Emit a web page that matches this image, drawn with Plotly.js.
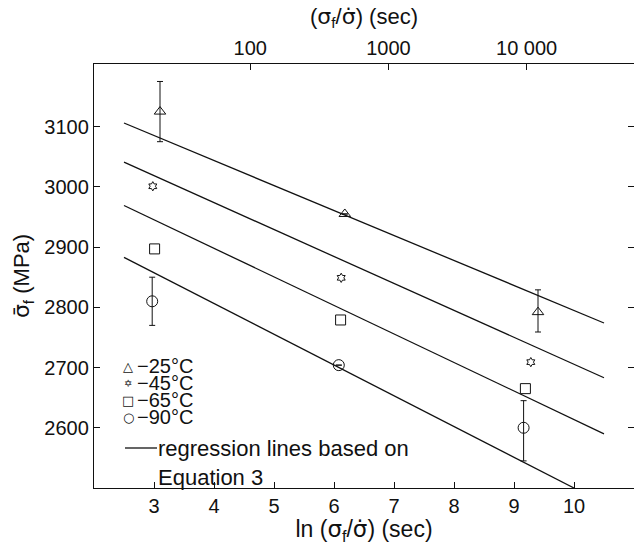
<!DOCTYPE html>
<html><head><meta charset="utf-8">
<script src="https://cdn.plot.ly/plotly-3.0.1.min.js"></script>
<style>body{margin:0;background:#fff}</style>
</head><body><div id="chart" style="width:634px;height:545px"></div>
<script>
// ---- data ----
const lnTime_25 = [3.10, 6.18, 9.40];
const sigma_25  = [3125, 2955, 2792];
const errUp_25  = [50, null, 37];
const errDn_25  = [50, null, 33];

const lnTime_45 = [2.98, 6.12, 9.28];
const sigma_45  = [3001, 2849, 2709];

const lnTime_65 = [3.01, 6.11, 9.19];
const sigma_65  = [2897, 2779, 2665];

const lnTime_90 = [2.97, 6.08, 9.16];
const sigma_90  = [2810, 2704, 2600];
const errUp_90  = [40, null, 45];
const errDn_90  = [40, null, 55];

// regression lines (Equation 3), endpoints
const regX_25 = [2.5, 10.5], regY_25 = [3106, 2774];
const regX_45 = [2.5, 10.5], regY_45 = [3041, 2683];
const regX_65 = [2.5, 10.5], regY_65 = [2969, 2590];
const regX_90 = [2.5, 10.0], regY_90 = [2883, 2500];

const xTicks = [3, 4, 5, 6, 7, 8, 9, 10];
const yTicks = [2600, 2700, 2800, 2900, 3000, 3100];
const topTimes = [100, 1000, 10000];
const topTickText = ['100', '1000', '10 000'];

const legendLabels = ['\u221225\u00b0C', '\u221245\u00b0C', '\u221265\u00b0C', '\u221290\u00b0C'];
const legendSymbols = ['\u25b3', '\u2721', '\u25a1', '\u25cb'];
const regLabel = 'regression lines based on<br>Equation 3';

// ---- drawing ----
const FONT = 'Liberation Sans, Arial, sans-serif';
const black = '#111';
const SIG = '<span style="font-family:DejaVu Sans">';

function pts(x, y, symbol, size, eu, ed) {
  const t = {x: x, y: y, type: 'scatter', mode: 'markers', xaxis: 'x', yaxis: 'y',
    marker: {symbol: symbol, size: size, color: black, line: {color: black, width: 1}},
    showlegend: false, hoverinfo: 'skip'};
  if (eu) t.error_y = {type: 'data', symmetric: false, array: eu, arrayminus: ed,
    color: black, thickness: 1, width: 3};
  return t;
}
function reg(x, y) {
  return {x: x, y: y, type: 'scatter', mode: 'lines', xaxis: 'x', yaxis: 'y',
    line: {color: black, width: 1.3}, showlegend: false, hoverinfo: 'skip'};
}

const data = [
  reg(regX_25, regY_25), reg(regX_45, regY_45), reg(regX_65, regY_65), reg(regX_90, regY_90),
  pts(lnTime_25, sigma_25, 'triangle-up-open', 10, errUp_25, errDn_25),
  pts(lnTime_45, sigma_45, 'hexagram-open', 7),
  pts(lnTime_65, sigma_65, 'square-open', 10),
  pts(lnTime_90, sigma_90, 'circle-open', 11, errUp_90, errDn_90),
  // invisible traces to activate the top and right axes
  {x: topTimes.map(Math.log), y: [2550, 2550, 2550], xaxis: 'x2', yaxis: 'y', type: 'scatter',
   mode: 'markers', marker: {opacity: 0}, showlegend: false, hoverinfo: 'skip'},
  {x: [3, 4], y: [2550, 2550], xaxis: 'x', yaxis: 'y2', type: 'scatter',
   mode: 'markers', marker: {opacity: 0}, showlegend: false, hoverinfo: 'skip'}
];

const legendRowsY = [366, 383, 400, 417];
const annotations = [];
legendLabels.forEach((lab, i) => {
  annotations.push({xref: 'paper', yref: 'paper', x: (128 - 94) / 540, y: 1 - (legendRowsY[i] - 64) / 424,
    text: legendSymbols[i], showarrow: false, xanchor: 'center', yanchor: 'middle',
    font: {family: 'DejaVu Sans', size: i === 1 ? 10 : 13, color: black}});
  annotations.push({xref: 'paper', yref: 'paper', x: (135 - 94) / 540, y: 1 - (legendRowsY[i] - 64) / 424,
    text: lab, showarrow: false, xanchor: 'left', yanchor: 'middle',
    font: {family: FONT, size: 20, color: black}});
});
annotations.push({xref: 'paper', yref: 'paper', x: (156 - 94) / 540, y: 1 - (434 - 64) / 424,
  text: regLabel, showarrow: false, xanchor: 'left', yanchor: 'top', align: 'left',
  font: {family: FONT, size: 22, color: black}});

const shapes = [{type: 'line', xref: 'paper', yref: 'paper',
  x0: (125 - 94) / 540, x1: (157 - 94) / 540,
  y0: 1 - (448 - 64) / 424, y1: 1 - (448 - 64) / 424,
  line: {color: black, width: 1.3}}];

const layout = {
  width: 634, height: 545,
  margin: {l: 94, r: 0, t: 64, b: 57, pad: 0},
  paper_bgcolor: '#fff', plot_bgcolor: '#fff',
  font: {family: FONT, size: 20, color: black},
  showlegend: false,
  xaxis: {range: [2, 11], tickvals: xTicks, ticks: 'inside', ticklen: 6, tickcolor: black,
    showline: true, linecolor: black, linewidth: 1.2, showgrid: false, zeroline: false,
    tickfont: {size: 20},
    title: {text: 'ln (' + SIG + '\u03c3</span><sub>f</sub>/' + SIG + '\u03c3\u0307</span>) (sec)', font: {size: 23}, standoff: 2}},
  xaxis2: {overlaying: 'x', side: 'top', range: [2, 11], tickvals: topTimes.map(Math.log),
    ticktext: topTickText, ticks: 'inside', ticklen: 6, tickcolor: black,
    showline: true, linecolor: black, linewidth: 1.2, showgrid: false, zeroline: false,
    tickfont: {size: 20},
    title: {text: '(' + SIG + '\u03c3</span><sub>f</sub>/' + SIG + '\u03c3\u0307</span>) (sec)', font: {size: 22}, standoff: 6}},
  yaxis: {range: [2500, 3204], tickvals: yTicks, ticks: 'inside', ticklen: 6, tickcolor: black,
    showline: true, linecolor: black, linewidth: 1.2, showgrid: false, zeroline: false,
    tickfont: {size: 20},
    title: {text: SIG + '\u03c3\u0304</span><sub>f</sub> (MPa)', font: {size: 22}, standoff: 8}},
  yaxis2: {overlaying: 'y', side: 'right', range: [2500, 3204], tickvals: yTicks, ticks: 'inside',
    ticklen: 6, tickcolor: black, showline: false, showticklabels: false, showgrid: false, zeroline: false},
  annotations: annotations,
  shapes: shapes
};

Plotly.newPlot('chart', data, layout, {staticPlot: true, displayModeBar: false});
</script>
</body></html>
